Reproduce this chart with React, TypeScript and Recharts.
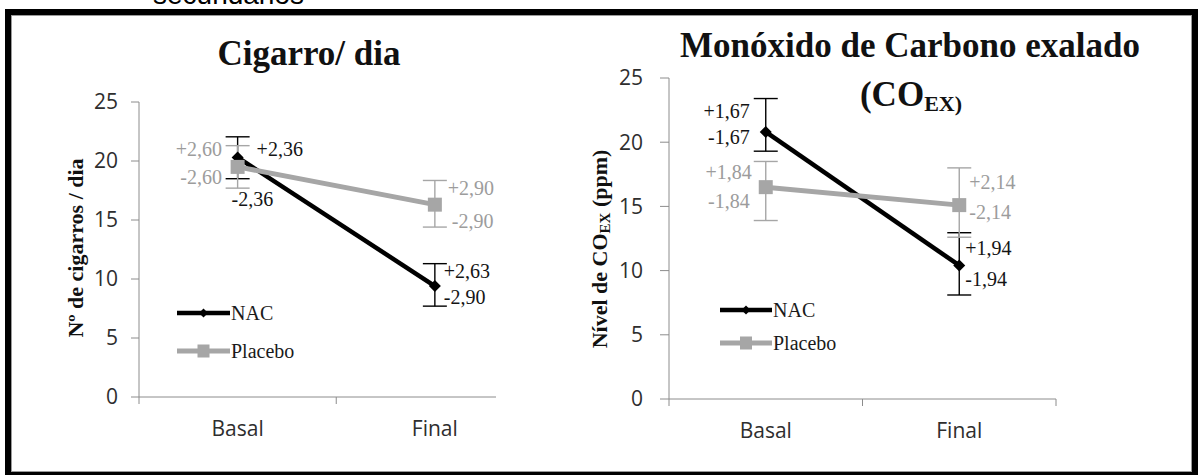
import React from 'react';
import { LineChart, Line, XAxis, YAxis, ErrorBar, LabelList, Legend } from 'recharts';

// ---------- data ----------
const categories = ['Basal', 'Final'];
const yTicks = [0, 5, 10, 15, 20, 25];
const seriesNames = ['NAC', 'Placebo'];

// Cigarro / dia
const cigNac = [20.3, 9.4];
const cigNacErr = [[1.8, 1.75], [1.7, 1.9]];
const cigPlacebo = [19.5, 16.3];
const cigPlaceboErr = [[1.8, 1.8], [1.9, 2.05]];
const cigNacPlus = ['+2,36', '+2,63'];
const cigNacMinus = ['-2,36', '-2,90'];
const cigPlaceboPlus = ['+2,60', '+2,90'];
const cigPlaceboMinus = ['-2,60', '-2,90'];

// Monóxido de Carbono exalado
const coNac = [20.8, 10.4];
const coNacErr = [[1.5, 2.6], [2.3, 2.55]];
const coPlacebo = [16.5, 15.1];
const coPlaceboErr = [[2.6, 2.0], [2.5, 2.9]];
const coNacPlus = ['+1,67', '+1,94'];
const coNacMinus = ['-1,67', '-1,94'];
const coPlaceboPlus = ['+1,84', '+2,14'];
const coPlaceboMinus = ['-1,84', '-2,14'];

const cigData = categories.map((c, i) => ({
  pos: i + 0.5,
  cat: c,
  nac: cigNac[i],
  nacErr: cigNacErr[i],
  placebo: cigPlacebo[i],
  placeboErr: cigPlaceboErr[i],
}));
const coData = categories.map((c, i) => ({
  pos: i + 0.5,
  cat: c,
  nac: coNac[i],
  nacErr: coNacErr[i],
  placebo: coPlacebo[i],
  placeboErr: coPlaceboErr[i],
}));

// ---------- styles ----------
const BLACK = '#000000';
const GRAY = '#a6a6a6';
const AXIS = '#8c8c8c';
const SERIF = '"Liberation Serif", "Times New Roman", serif';
const SANS = '"Open Sans", sans-serif';
const TICK_COLOR = '#2e2e2e';

type Off = { dx: number; dy: number; anchor: 'start' | 'end' | 'middle' };
type PairOff = { p: Off; m: Off };

const cigNacOff: PairOff[] = [
  { p: { dx: 19, dy: -1.5, anchor: 'start' }, m: { dx: -6, dy: 48.5, anchor: 'start' } },
  { p: { dx: 9, dy: -8, anchor: 'start' }, m: { dx: 9, dy: 18, anchor: 'start' } },
];
const cigPlaOff: PairOff[] = [
  { p: { dx: -15.6, dy: -11, anchor: 'end' }, m: { dx: -15.6, dy: 17, anchor: 'end' } },
  { p: { dx: 13, dy: -10, anchor: 'start' }, m: { dx: 17, dy: 23, anchor: 'start' } },
];
const coNacOff: PairOff[] = [
  { p: { dx: -16, dy: -14, anchor: 'end' }, m: { dx: -16, dy: 12, anchor: 'end' } },
  { p: { dx: 6, dy: -10.5, anchor: 'start' }, m: { dx: 6, dy: 20.5, anchor: 'start' } },
];
const coPlaOff: PairOff[] = [
  { p: { dx: -14, dy: -8, anchor: 'end' }, m: { dx: -16, dy: 21, anchor: 'end' } },
  { p: { dx: 10, dy: -16, anchor: 'start' }, m: { dx: 10, dy: 14, anchor: 'start' } },
];

const pairLabel = (plus: string[], minus: string[], offs: PairOff[], color: string) => (props: any) => {
  const { x, y, index } = props;
  if (x == null || y == null) return null;
  const o = offs[index];
  return (
    <g key={`lbl-${index}`}>
      <text x={x + o.p.dx} y={y + o.p.dy} textAnchor={o.p.anchor} fontFamily={SERIF} fontSize={20} fill={color}>
        {plus[index]}
      </text>
      <text x={x + o.m.dx} y={y + o.m.dy} textAnchor={o.m.anchor} fontFamily={SERIF} fontSize={20} fill={color}>
        {minus[index]}
      </text>
    </g>
  );
};

const diamondDot = (props: any) => {
  const { cx, cy, index } = props;
  if (cx == null || cy == null) return <g key={`dd-${index}`} />;
  const r = 6;
  return <path key={`dd-${index}`} d={`M${cx},${cy - r}L${cx + r},${cy}L${cx},${cy + r}L${cx - r},${cy}Z`} fill={BLACK} />;
};
const squareDot = (props: any) => {
  const { cx, cy, index } = props;
  if (cx == null || cy == null) return <g key={`sd-${index}`} />;
  const s = 14;
  return <rect key={`sd-${index}`} x={cx - s / 2} y={cy - s / 2} width={s} height={s} fill={GRAY} />;
};

const xTick = (props: any) => {
  const { x, y, payload } = props;
  const v = payload.value;
  if (Math.abs(v - Math.round(v)) < 1e-6) {
    return <line x1={x} x2={x} y1={y} y2={y + 7} stroke={AXIS} strokeWidth={1} />;
  }
  return (
    <text x={x} y={y + 39} textAnchor="middle" fontFamily={SANS} fontSize={21} fill={TICK_COLOR}>
      {categories[Math.floor(v)]}
    </text>
  );
};

const legendContent = (lineLen: number, gap: number) => (props: any) => {
  const payload = props.payload || [];
  return (
    <svg width={140} height={gap + 40} style={{ overflow: 'visible' }}>
      {payload.map((e: any, i: number) => {
        const y = 18 + i * gap;
        const isNac = e.value === seriesNames[0];
        const color = isNac ? BLACK : GRAY;
        const cx = 7 + lineLen / 2;
        return (
          <g key={`lg-${i}`}>
            <line x1={7} x2={7 + lineLen} y1={y} y2={y} stroke={color} strokeWidth={isNac ? 4.5 : 5} />
            {isNac ? (
              <path d={`M${cx},${y - 4.5}L${cx + 4.5},${y}L${cx},${y + 4.5}L${cx - 4.5},${y}Z`} fill={BLACK} />
            ) : (
              <rect x={cx - 6} y={y - 6.5} width={12} height={13} fill={GRAY} />
            )}
            <text x={8 + lineLen} y={y + 7} fontFamily={SERIF} fontSize={20} fill="#1a1a1a">
              {e.value}
            </text>
          </g>
        );
      })}
    </svg>
  );
};

const yTickStyle = { fontFamily: SANS, fontSize: 21, fill: TICK_COLOR };

export default function App() {
  return (
    <div style={{ position: 'absolute', left: 0, top: 0, width: 1198, height: 475, overflow: 'hidden', background: '#ffffff' }}>
      {/* frame */}
      <div style={{ position: 'absolute', left: 5, top: 9, width: 1193, height: 469, boxSizing: 'border-box', border: '6px solid #000' }} />
      <div style={{ position: 'absolute', left: 11, top: 15, width: 1181, height: 457, boxSizing: 'border-box', border: '1px solid #9a9a9a' }} />

      {/* left chart */}
      <div style={{ position: 'absolute', left: 0, top: 0 }}>
        <LineChart width={560} height={475} data={cigData} margin={{ top: 102, right: 64, bottom: 48, left: 79 }}>
          <XAxis
            type="number"
            dataKey="pos"
            domain={[0, 1.81]}
            ticks={[0, 0.5, 1, 1.5]}
            interval={0}
            tickLine={false}
            tickSize={0}
            tickMargin={0}
            axisLine={{ stroke: AXIS }}
            tick={xTick}
            height={30}
            allowDataOverflow
          />
          <YAxis
            domain={[0, 25]}
            ticks={yTicks}
            interval={0}
            width={60}
            tickSize={8}
            tickMargin={13}
            axisLine={{ stroke: AXIS }}
            tickLine={{ stroke: AXIS }}
            tick={yTickStyle}
          />
          <Legend
            layout="vertical"
            align="center"
            verticalAlign="middle"
            wrapperStyle={{ left: 170, top: 295, width: 140, height: 80 }}
            content={legendContent(53, 38)}
          />
          <Line dataKey="nac" name={seriesNames[0]} stroke={BLACK} strokeWidth={4.5} dot={diamondDot} activeDot={false} isAnimationActive={false}>
            <ErrorBar dataKey="nacErr" width={12} stroke={BLACK} strokeWidth={1.4} direction="y" />
            <LabelList dataKey="nac" content={pairLabel(cigNacPlus, cigNacMinus, cigNacOff, '#141414')} />
          </Line>
          <Line dataKey="placebo" name={seriesNames[1]} stroke={GRAY} strokeWidth={5} dot={squareDot} activeDot={false} isAnimationActive={false}>
            <ErrorBar dataKey="placeboErr" width={12} stroke={GRAY} strokeWidth={1.4} direction="y" />
            <LabelList dataKey="placebo" content={pairLabel(cigPlaceboPlus, cigPlaceboMinus, cigPlaOff, '#9c9c9c')} />
          </Line>
        </LineChart>
      </div>

      {/* right chart */}
      <div style={{ position: 'absolute', left: 560, top: 0 }}>
        <LineChart width={638} height={475} data={coData} margin={{ top: 78, right: 142, bottom: 46, left: 49 }}>
          <XAxis
            type="number"
            dataKey="pos"
            domain={[0, 2]}
            ticks={[0, 0.5, 1, 1.5, 2]}
            interval={0}
            tickLine={false}
            tickSize={0}
            tickMargin={0}
            axisLine={{ stroke: AXIS }}
            tick={xTick}
            height={30}
          />
          <YAxis
            domain={[0, 25]}
            ticks={yTicks}
            interval={0}
            width={60}
            tickSize={9}
            tickMargin={17}
            axisLine={{ stroke: AXIS }}
            tickLine={{ stroke: AXIS }}
            tick={yTickStyle}
          />
          <Legend
            layout="vertical"
            align="center"
            verticalAlign="middle"
            wrapperStyle={{ left: 153, top: 292, width: 140, height: 80 }}
            content={legendContent(52, 33)}
          />
          <Line dataKey="nac" name={seriesNames[0]} stroke={BLACK} strokeWidth={4.5} dot={diamondDot} activeDot={false} isAnimationActive={false}>
            <ErrorBar dataKey="nacErr" width={12} stroke={BLACK} strokeWidth={1.4} direction="y" />
            <LabelList dataKey="nac" content={pairLabel(coNacPlus, coNacMinus, coNacOff, '#141414')} />
          </Line>
          <Line dataKey="placebo" name={seriesNames[1]} stroke={GRAY} strokeWidth={5} dot={squareDot} activeDot={false} isAnimationActive={false}>
            <ErrorBar dataKey="placeboErr" width={12} stroke={GRAY} strokeWidth={1.4} direction="y" />
            <LabelList dataKey="placebo" content={pairLabel(coPlaceboPlus, coPlaceboMinus, coPlaOff, '#9c9c9c')} />
          </Line>
        </LineChart>
      </div>

      {/* titles and axis titles */}
      <svg width={1198} height={475} style={{ position: 'absolute', left: 0, top: 0, pointerEvents: 'none' }}>
        <text x={153} y={3.5} fontFamily='"Liberation Sans", Arial, sans-serif' fontSize={28} fill="#000">
          secundários
        </text>
        <text x={309} y={65} textAnchor="middle" fontFamily={SERIF} fontWeight="bold" fontSize={35} fill="#111">
          Cigarro/ dia
        </text>
        <text x={910} y={57} textAnchor="middle" fontFamily={SERIF} fontWeight="bold" fontSize={35} fill="#111">
          Monóxido de Carbono exalado
        </text>
        <text x={911} y={106} textAnchor="middle" fontFamily={SERIF} fontWeight="bold" fontSize={35} fill="#111">
          (CO
          <tspan fontSize={22} dy={5}>EX)</tspan>
        </text>
        <text transform="translate(75,248) rotate(-90)" textAnchor="middle" dy="0.35em" fontFamily={SERIF} fontWeight="bold" fontSize={22} fill="#111">
          Nº de cigarros / dia
        </text>
        <text transform="translate(599,249) rotate(-90)" textAnchor="middle" dy="0.35em" fontFamily={SERIF} fontWeight="bold" fontSize={22} fill="#111">
          Nível de CO
          <tspan fontSize={15} dy={3}>EX</tspan>
          <tspan dy={-3}> (ppm)</tspan>
        </text>
      </svg>
    </div>
  );
}
